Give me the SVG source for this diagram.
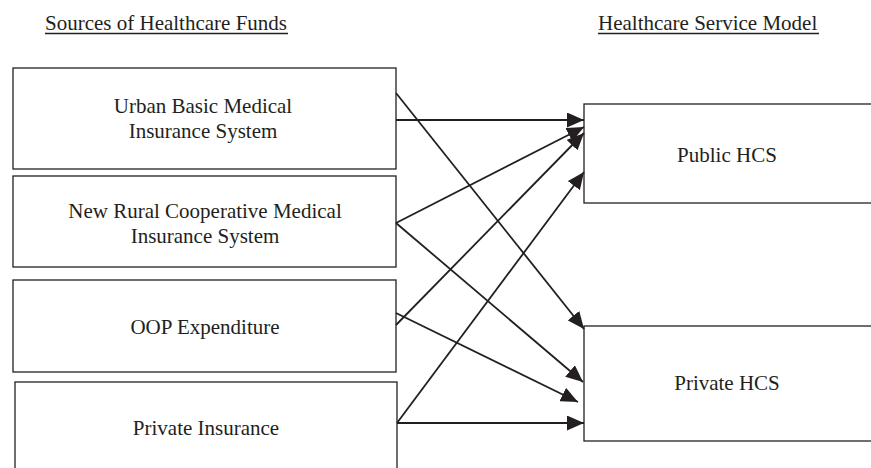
<svg xmlns="http://www.w3.org/2000/svg" width="871" height="468" viewBox="0 0 871 468">
<style>
text{font-family:"Liberation Serif","Times New Roman",serif;font-size:21px;fill:#231f20;text-anchor:middle}
.box{fill:#fff;stroke:#231f20;stroke-width:1.3}
.hd{text-anchor:start}
.ul{stroke:#231f20;stroke-width:1.3}
.c{stroke:#231f20;stroke-width:1.8;fill:none;marker-end:url(#ah)}
</style>
<defs>
<marker id="ah" markerUnits="userSpaceOnUse" markerWidth="17" markerHeight="15" refX="17" refY="7.5" orient="auto" viewBox="0 0 17 15">
<path d="M0,0 L17,7.5 L0,15 z" fill="#231f20"/>
</marker>
</defs>
<rect width="871" height="468" fill="#fff"/>
<g id="header-sources">
<text class="hd" x="45" y="30">Sources of Healthcare Funds</text>
<line class="ul" x1="45" y1="33.5" x2="288" y2="33.5"/>
</g>
<g id="header-model">
<text class="hd" x="598" y="30">Healthcare Service Model</text>
<line class="ul" x1="598" y1="33.5" x2="819" y2="33.5"/>
</g>
<g id="urban">
<rect class="box" x="13" y="68" width="383" height="101"/>
<text x="203" y="113">Urban Basic Medical</text>
<text x="203" y="138">Insurance System</text>
</g>
<g id="rural">
<rect class="box" x="13" y="176" width="383" height="91"/>
<text x="205" y="218">New Rural Cooperative Medical</text>
<text x="205" y="243">Insurance System</text>
</g>
<g id="oop">
<rect class="box" x="13" y="280" width="383" height="92"/>
<text x="205" y="334">OOP Expenditure</text>
</g>
<g id="private-insurance">
<rect class="box" x="15" y="382" width="382" height="95"/>
<text x="206" y="435">Private Insurance</text>
</g>
<g id="public-hcs">
<rect class="box" x="584" y="104" width="290" height="99"/>
<text x="727" y="162">Public HCS</text>
</g>
<g id="private-hcs">
<rect class="box" x="584" y="326" width="290" height="115"/>
<text x="727" y="390">Private HCS</text>
</g>
<g id="connectors">
<line class="c" x1="396" y1="120" x2="584" y2="120"/>
<line class="c" x1="396" y1="93" x2="584" y2="329"/>
<line class="c" x1="396" y1="223" x2="584" y2="127"/>
<line class="c" x1="396" y1="223" x2="583" y2="382"/>
<line class="c" x1="396" y1="325" x2="584" y2="133"/>
<line class="c" x1="396" y1="313" x2="578" y2="402"/>
<line class="c" x1="397" y1="423" x2="584" y2="172"/>
<line class="c" x1="397" y1="423" x2="584" y2="423"/>
</g>
</svg>
